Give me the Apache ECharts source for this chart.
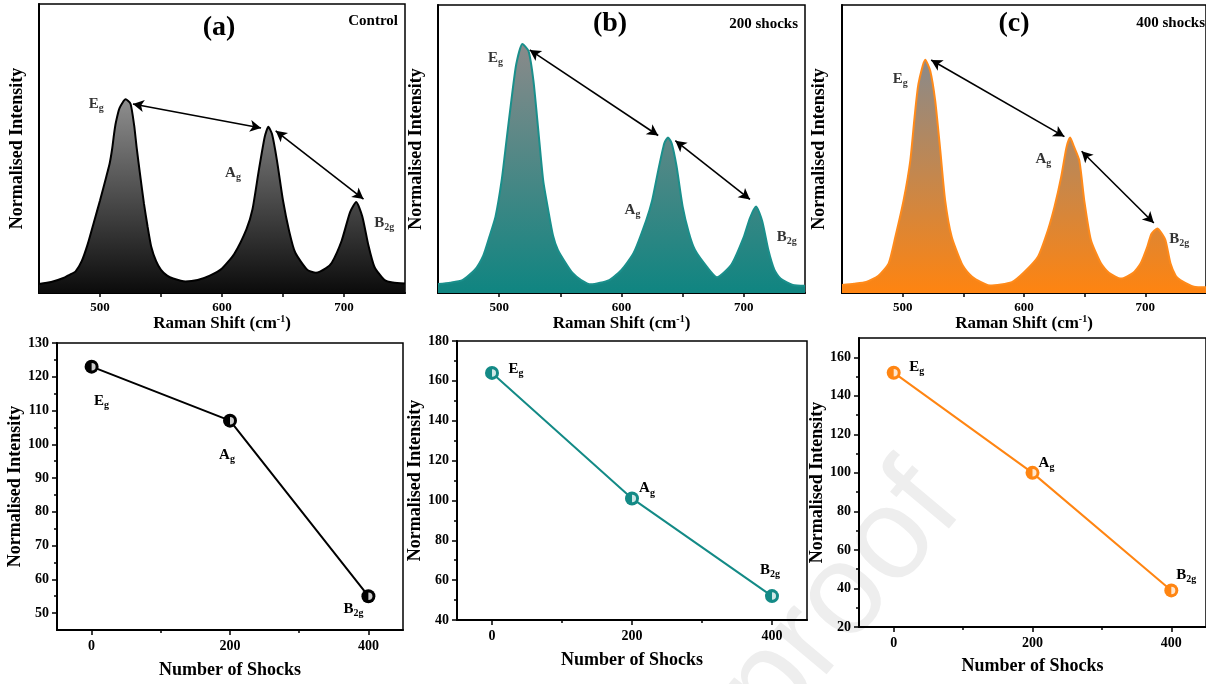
<!DOCTYPE html>
<html><head><meta charset="utf-8">
<script src="https://cdn.jsdelivr.net/npm/echarts@6/dist/echarts.min.js"></script>
<style>html,body{margin:0;padding:0;background:#fff}#c{width:1206px;height:684px}</style>
</head><body><div id="c"></div>
<script>
// ---------------- DATA ----------------
const ramanTickValues = [500, 600, 700];
const ramanTickMarks = [500, 550, 600, 650, 700];
const ramanRange = [450, 750];

// Raman spectra [shift cm-1, normalised intensity (a.u., 0-100 scale)]
const specControl = [[450,3.1],[460,3.8],[470,5.2],[475,6.3],[480,7.5],[485,11],[490,17],[495,24.5],[500,32],[505,40],[508,45],[510,50],[511.5,55],[513,59],[516,64],[521,67],[525,65.5],[528,58],[530,50.5],[533,40.5],[536,31],[539,23],[542,16],[546,11],[550,8],[555,6],[560,5],[570,4],[580,4.5],[590,6],[600,8.5],[610,13.5],[620,22],[625,29],[630,42],[635,54],[638,57.5],[641,55],[645,46],[650,32],[655,21.5],[660,14],[670,8],[677,7],[685,8.5],[690,10.5],[698,18],[705,28],[710,31.5],[715,26.5],[720,16.5],[725,9],[733,4.6],[740,3.6],[750,3.3]];
const spec200 = [[450,3.1],[460,3.6],[470,4.5],[480,8],[487,13],[492,19.5],[497,26.5],[502,39],[506,53],[510,67],[514,79.5],[519,86.5],[524,84],[528,73.7],[532,56.4],[536,39],[540,29],[544,20],[548,15],[555,10],[560,7],[567,4.5],[575,3],[590,4.5],[600,8],[610,14],[620,25],[625,32],[630,42.5],[635,52],[638,54],[641,52],[645,44],[650,30],[655,21],[660,15],[670,9],[678,5.5],[690,10],[700,19.5],[705,26],[710,30],[715,25],[720,15],[725,8],[730,5],[740,2.8],[750,2.5]];
const spec400 = [[450,2.8],[460,3.2],[470,3.8],[480,6],[488.5,10.3],[494,19.5],[500.8,32.2],[506.3,46],[509.8,61],[513,72.6],[518.6,81],[522.7,77.2],[526.8,66.8],[531,49.5],[535,32.2],[540.4,19.5],[548.6,10.3],[555,6.5],[560,4.8],[572,2.6],[590,3.8],[600.5,7.4],[611.5,12.6],[619.7,21.8],[625.2,30],[630.6,40.2],[635,50.5],[638,54],[641,51],[645.6,46],[649.7,32],[655.2,18.3],[663.4,10.3],[670,7],[680,5],[690,7],[696.2,10.3],[701.6,16],[705,20.5],[709.8,22.4],[713,21],[716.6,18.3],[720.7,10.3],[725,6],[728.9,4.5],[740,2.2],[750,2]];

// Peak labels (mode name, subscript) and their annotation anchors [shift, intensity]
const modeNames = ['E', 'A', 'B'];
const modeSubs = ['g', 'g', '2g'];
const peakLabelsControl = [[497,65.4],[609,41.4],[733,24.1]];
const peakLabels200 = [[497,81.5],[609,28.7],[735,19.3]];
const peakLabels400 = [[498,74.3],[616,46.6],[728,18.7]];

// Double-headed arrows between peaks [[start],[end]]
const arrowsControl = [[[527,65.4],[632,57.1]],[[644,56.1],[716,32.5]]];
const arrows200 = [[[525,84.4],[630,54.7]],[[644,52.9],[705,32.5]]];
const arrows400 = [[[523.5,80.9],[633.3,54.3]],[[647.5,49.2],[707,24.3]]];

// Bottom row: intensity vs number of shocks
const shocks = [0, 200, 400];
const shockTicks = [0, 200, 400];
const shockMinorTicks = [100, 300];
const intensityControl = [123, 107, 55];
const intensity200 = [164, 101, 52];
const intensity400 = [152, 100, 39];
const yTicksControl = [50, 60, 70, 80, 90, 100, 110, 120, 130];
const yMinorControl = [55, 65, 75, 85, 95, 105, 115, 125];
const yTicks200 = [40, 60, 80, 100, 120, 140, 160, 180];
const yMinor200 = [50, 70, 90, 110, 130, 150, 170];
const yTicks400 = [20, 40, 60, 80, 100, 120, 140, 160];
const yMinor400 = [30, 50, 70, 90, 110, 130, 150];

const panelTitles = ['(a)', '(b)', '(c)'];
const panelTags = ['Control', '200 shocks', '400 shocks'];

// ---------------- STYLE / LAYOUT ----------------
const FONT = '"Liberation Serif", "Times New Roman", serif';
const topPanels = [
  {spec: specControl, line: '#000000', aTop: '#8e8e8e', aBot: '#0b0b0b', arrows: arrowsControl, labels: peakLabelsControl,
   grid: {left: 39, top: 4, width: 366, height: 289}, yGap: 13},
  {spec: spec200, line: '#1a8f8b', aTop: '#8a8a8a', aBot: '#0f8581', arrows: arrows200, labels: peakLabels200,
   grid: {left: 438, top: 5, width: 367, height: 288}, yGap: 13},
  {spec: spec400, line: '#ff8a1a', aTop: '#8a8a8a', aBot: '#ff8410', arrows: arrows400, labels: peakLabels400,
   grid: {left: 842, top: 5, width: 367, height: 288}, yGap: 14}
];
const botPanels = [
  {vals: intensityControl, color: '#000000', yMin: 45, yMax: 130, ticks: yTicksControl, minor: yMinorControl,
   grid: {left: 57, top: 343, width: 346, height: 287}, yGap: 32, xGap: 31,
   offs: [[10, 34], [-3, 34], [-15, 13]]},
  {vals: intensity200, color: '#138a86', yMin: 40, yMax: 180, ticks: yTicks200, minor: yMinor200,
   grid: {left: 457, top: 341, width: 350, height: 279}, yGap: 32, xGap: 31,
   offs: [[24, -4], [15, -10], [-2, -26]]},
  {vals: intensity400, color: '#ff8512', yMin: 20, yMax: 170, ticks: yTicks400, minor: yMinor400,
   grid: {left: 859, top: 338, width: 349, height: 289}, yGap: 33, xGap: 30,
   offs: [[23, -6], [14, -10], [15, -15]]}
];

const labelRich = {
  b: {fontFamily: FONT, fontWeight: 'bold', fontSize: 15, color: '#000'},
  s: {fontFamily: FONT, fontWeight: 'bold', fontSize: 10, color: '#000', padding: [9, 0, 0, 0]}
};
const modeLabel = i => '{b|' + modeNames[i] + '}{s|' + modeSubs[i] + '}';

const grids = [], xAxes = [], yAxes = [], series = [], graphics = [];
const axisLineStyle = {show: true, onZero: false, lineStyle: {color: '#000', width: 2}};
const tickLabelStyle = {fontFamily: FONT, fontWeight: 'bold', fontSize: 14, color: '#000'};
const nameStyle = {fontFamily: FONT, fontWeight: 'bold', fontSize: 18, color: '#000'};

topPanels.forEach((p, k) => {
  const gi = grids.length;
  grids.push(Object.assign({show: true, borderColor: '#000', borderWidth: 1.5, backgroundColor: 'transparent'}, p.grid));
  const xi = xAxes.length;
  xAxes.push({
    type: 'value', gridIndex: gi, min: ramanRange[0], max: ramanRange[1], position: 'bottom',
    axisLine: axisLineStyle,
    axisTick: {show: true, inside: false, length: 4, customValues: ramanTickMarks, lineStyle: {color: '#000', width: 1.5}},
    axisLabel: Object.assign({show: true, margin: 8, customValues: ramanTickValues}, tickLabelStyle, {fontSize: 13}),
    splitLine: {show: false},
    name: '{a|Raman Shift (cm}{s|-1}{a|)}', nameLocation: 'middle', nameGap: 17,
    nameTextStyle: {rich: {
      a: {fontFamily: FONT, fontWeight: 'bold', fontSize: 17, color: '#000'},
      s: {fontFamily: FONT, fontWeight: 'bold', fontSize: 10, color: '#000', padding: [0, 0, 8, 0]}
    }}
  });
  const yi = yAxes.length;
  yAxes.push({
    type: 'value', gridIndex: gi, min: 0, max: 100, position: 'left',
    axisLine: axisLineStyle, axisTick: {show: false}, axisLabel: {show: false}, splitLine: {show: false},
    name: 'Normalised Intensity', nameLocation: 'middle', nameGap: p.yGap, nameRotate: 90,
    nameTextStyle: nameStyle
  });
  series.push({
    type: 'line', xAxisIndex: xi, yAxisIndex: yi, data: p.spec, smooth: 0.2, showSymbol: false,
    lineStyle: {color: p.line, width: 2}, itemStyle: {color: p.line},
    areaStyle: {opacity: 1, color: {type: 'linear', x: 0, y: 0, x2: 0, y2: 1,
      colorStops: [{offset: 0, color: p.aTop}, {offset: 1, color: p.aBot}]}},
    markLine: {
      silent: true, symbol: ['arrow', 'arrow'], symbolSize: [9, 11], precision: 3,
      lineStyle: {color: '#000', width: 1.6, type: 'solid'}, label: {show: false},
      data: p.arrows.map(a => [{coord: a[0]}, {coord: a[1]}])
    },
    z: 2
  });
  series.push({
    type: 'scatter', xAxisIndex: xi, yAxisIndex: yi, symbolSize: 1, itemStyle: {color: 'rgba(0,0,0,0)'},
    data: p.labels.map((c, i) => ({value: c, label: {formatter: modeLabel(i)}})),
    label: {show: true, position: 'inside', rich: labelRich}, z: 5, silent: true
  });
  graphics.push({type: 'text', x: p.grid.left + (k === 0 ? 180 : 172), y: k === 0 ? 28 : 24, z: 10,
    style: {text: panelTitles[k], font: 'bold 28px ' + FONT, fill: '#000', textAlign: 'center', textVerticalAlign: 'middle'}});
});
graphics.push({type: 'text', x: 398, y: 21, z: 10, style: {text: panelTags[0], font: 'bold 15px ' + FONT, fill: '#000', textAlign: 'right', textVerticalAlign: 'middle'}});
graphics.push({type: 'text', x: 798, y: 24, z: 10, style: {text: panelTags[1], font: 'bold 15px ' + FONT, fill: '#000', textAlign: 'right', textVerticalAlign: 'middle'}});
graphics.push({type: 'text', x: 1205, y: 23, z: 10, style: {text: panelTags[2], font: 'bold 15px ' + FONT, fill: '#000', textAlign: 'right', textVerticalAlign: 'middle'}});

botPanels.forEach((p, k) => {
  const gi = grids.length;
  grids.push(Object.assign({show: true, borderColor: '#000', borderWidth: 1.5, backgroundColor: 'transparent'}, p.grid));
  const xi = xAxes.length;
  xAxes.push({
    type: 'value', gridIndex: gi, min: -50, max: 450, position: 'bottom',
    axisLine: axisLineStyle,
    axisTick: {show: true, length: 5, customValues: shockTicks, lineStyle: {color: '#000', width: 1.5}},
    axisLabel: Object.assign({show: true, margin: 9, customValues: shockTicks}, tickLabelStyle),
    splitLine: {show: false},
    name: 'Number of Shocks', nameLocation: 'middle', nameGap: p.xGap, nameTextStyle: nameStyle
  });
  xAxes.push({
    type: 'value', gridIndex: gi, min: -50, max: 450, position: 'bottom', axisLine: {show: false, onZero: false},
    axisTick: {show: true, length: 3, customValues: shockMinorTicks, lineStyle: {color: '#000', width: 1.5}},
    axisLabel: {show: false}, splitLine: {show: false}
  });
  const yi = yAxes.length;
  yAxes.push({
    type: 'value', gridIndex: gi, min: p.yMin, max: p.yMax, position: 'left',
    axisLine: axisLineStyle,
    axisTick: {show: true, length: 5, customValues: p.ticks, lineStyle: {color: '#000', width: 1.5}},
    axisLabel: Object.assign({show: true, margin: 8, customValues: p.ticks}, tickLabelStyle),
    splitLine: {show: false},
    name: 'Normalised Intensity', nameLocation: 'middle', nameGap: p.yGap, nameRotate: 90, nameTextStyle: nameStyle
  });
  yAxes.push({
    type: 'value', gridIndex: gi, min: p.yMin, max: p.yMax, position: 'left', axisLine: {show: false, onZero: false},
    axisTick: {show: true, length: 3, customValues: p.minor, lineStyle: {color: '#000', width: 1.5}},
    axisLabel: {show: false}, splitLine: {show: false}
  });
  series.push({
    type: 'line', xAxisIndex: xi, yAxisIndex: yi,
    data: shocks.map((s, i) => ({value: [s, p.vals[i]],
      label: {show: true, position: 'inside', offset: p.offs[i], formatter: modeLabel(i), rich: labelRich}})),
    symbol: 'circle', symbolSize: 14, showAllSymbol: true,
    lineStyle: {color: p.color, width: 2}, itemStyle: {color: p.color, borderWidth: 0}, z: 3
  });
  series.push({
    type: 'scatter', xAxisIndex: xi, yAxisIndex: yi, silent: true,
    data: shocks.map((s, i) => [s, p.vals[i]]),
    symbol: 'path://M0,0 A10,10 0 0,1 0,20 Z', symbolSize: [4, 7.5], symbolOffset: [2, 0], symbolKeepAspect: false,
    itemStyle: {color: '#ffffff'}, z: 4
  });
});

// faint "proof" watermark present in the source image
graphics.unshift({type: 'text', x: 842, y: 600, rotation: 50 * Math.PI / 180, z: -5, silent: true,
  style: {text: 'proof', font: '130px "Liberation Sans", Arial, sans-serif', fill: '#eeeeee', textAlign: 'center', textVerticalAlign: 'middle'}});

const chart = echarts.init(document.getElementById('c'), null, {renderer: 'canvas'});
chart.setOption({
  animation: false,
  backgroundColor: '#ffffff',
  grid: grids, xAxis: xAxes, yAxis: yAxes, series: series, graphic: graphics
});
</script></body></html>
